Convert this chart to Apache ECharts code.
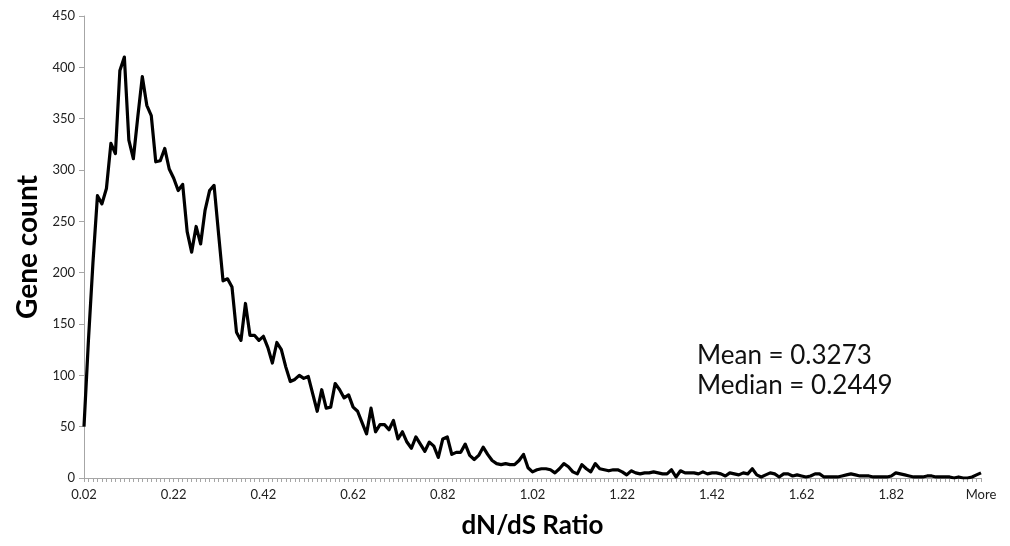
<!DOCTYPE html>
<html>
<head>
<meta charset="utf-8">
<script src="https://cdn.jsdelivr.net/npm/echarts@6/dist/echarts.min.js"></script>
<style>
html,body{margin:0;padding:0;background:#fff;}
#chart{width:1010px;height:546px;}
</style>
</head>
<body>
<div id="chart"></div>
<script>
// Bin upper limits 0.02 .. 2.01 step 0.01, then "More"
var binStart = 0.02;
var binCount = 200;
var categories = [];
for (var i = 0; i < binCount; i++) categories.push((binStart + i * 0.01).toFixed(2));
categories.push('More');

var geneCounts = [
  50,135,210,275,267,282,326,316,397,410,
  329,311,352,391,363,353,308,309,321,301,
  292,280,286,240,220,245,228,261,280,285,
  238,192,194,186,142,134,170,139,139,134,
  138,127,112,132,125,108,94,96,100,97,
  99,82,65,86,68,69,92,86,78,81,
  69,65,54,43,68,45,52,52,47,56,
  38,45,35,29,40,33,26,35,31,20,
  38,40,23,25,25,33,22,18,22,30,
  23,17,14,13,14,13,13,17,23,10,
  6,8,9,9,8,5,9,14,11,6,
  4,13,9,6,14,9,8,7,8,8,
  6,3,7,5,4,5,5,6,5,4,
  4,8,1,7,5,5,5,4,6,4,
  5,5,4,2,5,4,3,5,4,9,
  3,1,3,5,4,1,4,4,2,3,
  2,1,2,4,4,1,1,1,1,2,
  3,4,3,2,2,2,1,1,1,1,
  2,5,4,3,2,1,1,1,2,2,
  1,1,1,1,0,1,0,0,1,3,
  5
];

var yTicks = {min: 0, max: 450, interval: 50};
var xTitle = 'dN/dS Ratio';
var yTitle = 'Gene count';
var statsLines = ['Mean = 0.3273', 'Median = 0.2449'];

var chart = echarts.init(document.getElementById('chart'), null, {renderer: 'canvas'});
var axisGray = '#a6a6a6';
var font = 'Lato, "Open Sans", "Liberation Sans", sans-serif';

chart.setOption({
  animation: false,
  backgroundColor: '#ffffff',
  grid: {left: 84, right: 29, top: 16, bottom: 68, containLabel: false},
  xAxis: {
    type: 'category',
    data: categories,
    boundaryGap: false,
    name: xTitle,
    nameLocation: 'middle',
    nameGap: 35,
    nameTextStyle: {fontFamily: font, fontSize: 26, fontWeight: 'bold', color: '#000'},
    axisLine: {show: true, lineStyle: {color: axisGray, width: 1}},
    axisTick: {show: true, interval: 0, length: 4, inside: false, lineStyle: {color: axisGray}},
    axisLabel: {interval: 19, fontFamily: font, fontSize: 13, color: '#222', margin: 10, showMaxLabel: true},
    splitLine: {show: false}
  },
  yAxis: {
    type: 'value',
    min: yTicks.min,
    max: yTicks.max,
    interval: yTicks.interval,
    name: yTitle,
    nameLocation: 'middle',
    nameGap: 40,
    nameRotate: 90,
    nameTextStyle: {fontFamily: font, fontSize: 28, fontWeight: 'bold', color: '#000'},
    axisLine: {show: true, lineStyle: {color: axisGray, width: 1}},
    axisTick: {show: true, length: 5, lineStyle: {color: axisGray}},
    axisLabel: {fontFamily: font, fontSize: 13, color: '#222', margin: 9},
    splitLine: {show: false}
  },
  series: [{
    type: 'line',
    data: geneCounts,
    showSymbol: false,
    symbol: 'none',
    lineStyle: {color: '#000', width: 3.2, join: 'round'},
    itemStyle: {color: '#000'}
  }],
  graphic: [
    {type: 'text', left: 697, top: 343, style: {text: statsLines[0], font: '26px ' + font, fill: '#111'}},
    {type: 'text', left: 697, top: 373, style: {text: statsLines[1], font: '26px ' + font, fill: '#111'}}
  ]
});
</script>
</body>
</html>
